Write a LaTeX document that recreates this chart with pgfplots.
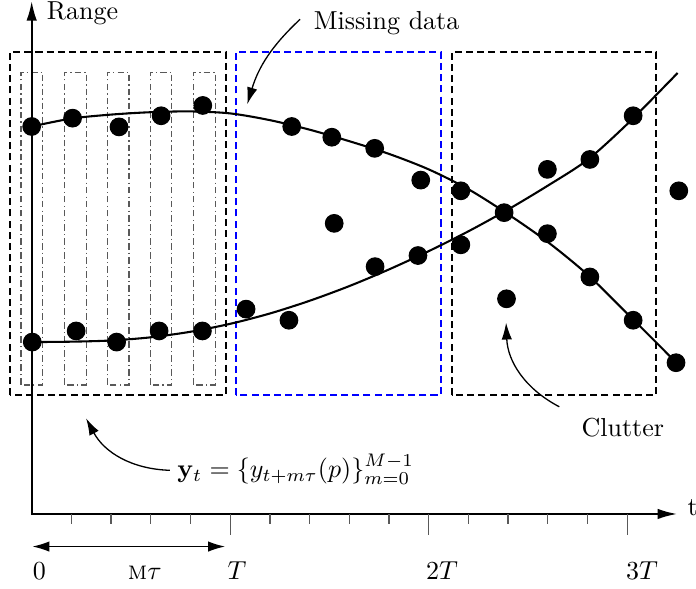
\documentclass[border=0pt]{standalone}
\usepackage{pgfplots}
\pgfplotsset{compat=1.18}
\usetikzlibrary{arrows.meta}

\begin{document}
\begin{tikzpicture}[>={Latex[length=6.5pt,width=4pt]}]
\begin{axis}[
    x=15.27pt, y=15.27pt,
    xmin=-0.798, xmax=16.733,
    ymin=-1.889, ymax=12.922,
    hide axis,
    clip=false,
]
% page frame
\path (-0.798,-1.889) rectangle (16.733,12.922);

% windows
\draw[thick,dash pattern=on 2.7pt off 1.6pt] (-0.547,2.99) rectangle (4.89,11.64);
\draw[thick,blue,dash pattern=on 2.7pt off 1.6pt] (5.15,2.99) rectangle (10.30,11.64);
\draw[thick,dash pattern=on 2.7pt off 1.6pt] (10.58,2.99) rectangle (15.73,11.64);

% pulses inside the first window
\tikzset{pulse/.style={black!65,line width=0.45pt,dash pattern=on 2.5pt off 1.2pt on 0.5pt off 1.2pt}}
\draw[pulse] (-0.268,3.25) rectangle (0.276,11.13);
\draw[pulse] (0.828,3.25) rectangle (1.372,11.13);
\draw[pulse] (1.908,3.25) rectangle (2.452,11.13);
\draw[pulse] (2.988,3.25) rectangle (3.532,11.13);
\draw[pulse] (4.078,3.25) rectangle (4.622,11.13);

% axes
\draw[thick,line join=miter,{Latex[length=7.5pt,width=4pt]}-{Latex[length=7.5pt,width=4pt]}]
    (0,12.92) -- (0,0) -- (16.26,0);
\pgfplotsinvokeforeach{1,2,3,4,6,7,8,9,11,12,13,14}{
    \draw[black!65,line width=0.5pt] (#1,0) -- (#1,-0.25);
}
\pgfplotsinvokeforeach{5,10,15}{
    \draw[black!65,line width=0.5pt] (#1,0) -- (#1,-0.53);
}
\node[anchor=base west,inner sep=0] at (0.02,-1.645) {$0$};
\node[anchor=base west,inner sep=0] at (4.92,-1.645) {$T$};
\node[anchor=base west,inner sep=0] at (9.92,-1.645) {$2T$};
\node[anchor=base west,inner sep=0] at (14.96,-1.645) {$3T$};
\node[anchor=base] at (2.85,-1.645) {\textsc{m}$\tau$};
\draw[line width=0.5pt,<->] (0.02,-0.82) -- (4.87,-0.82);
\node[inner sep=0] at (1.28,12.62) {Range};
\node[overlay] at (16.65,0.16) {t};

% tracks
\addplot[thick,smooth,black] coordinates {
    (0,9.76) (1,9.96) (2,10.06) (3,10.12) (4,10.14) (5,10.09) (6,9.92)
    (7,9.68) (8,9.39) (9,9.07) (10,8.68) (11,8.18) (12,7.55) (13,6.85)
    (14,6.03) (15,5.05) (16,4.05) (16.23,3.81)
};
\addplot[thick,smooth,black] coordinates {
    (0,4.33) (1,4.34) (2,4.37) (3,4.45) (4,4.59) (5,4.79) (6,5.05)
    (7,5.37) (8,5.74) (9,6.16) (10,6.62) (11,7.12) (12,7.67) (13,8.27)
    (14,8.92) (15,9.82) (16,10.83) (16.27,11.11)
};

% detections
\addplot[only marks,mark=*,mark size=3.4pt,black] coordinates {
    (0,9.76) (1.03,9.97) (2.20,9.75) (3.26,10.03) (4.31,10.29)
    (6.55,9.76) (7.56,9.49) (8.64,9.21) (9.80,8.41) (10.81,8.14)
    (11.90,7.59) (12.99,7.06) (14.06,5.97) (15.15,4.88) (16.23,3.81)
};
\addplot[only marks,mark=*,mark size=3.4pt,black] coordinates {
    (0.015,4.33) (1.12,4.61) (2.14,4.33) (3.21,4.61) (4.30,4.61)
    (5.40,5.16) (6.48,4.88) (8.65,6.23) (9.73,6.51) (10.81,6.78)
    (12.99,8.68) (14.06,8.93) (15.15,10.03)
};
% clutter
\addplot[only marks,mark=*,mark size=3.4pt,black] coordinates {
    (7.62,7.32) (11.96,5.42) (16.30,8.14)
};

% annotations
\node at (8.94,12.37) {Missing data};
\draw[line width=0.5pt,->] (6.76,12.46) to[bend right=15] (5.43,10.32);
\node at (14.89,2.17) {Clutter};
\draw[line width=0.5pt,->] (13.29,2.70) to[bend left=30] (11.95,4.82);
\node at (6.65,1.13) {$\mathbf{y}_t = \{y_{t+m\tau}(p)\}_{m=0}^{M-1}$};
\draw[line width=0.5pt,->] (3.48,1.10) to[bend left=30] (1.37,2.41);
\end{axis}
\end{tikzpicture}
\end{document}
